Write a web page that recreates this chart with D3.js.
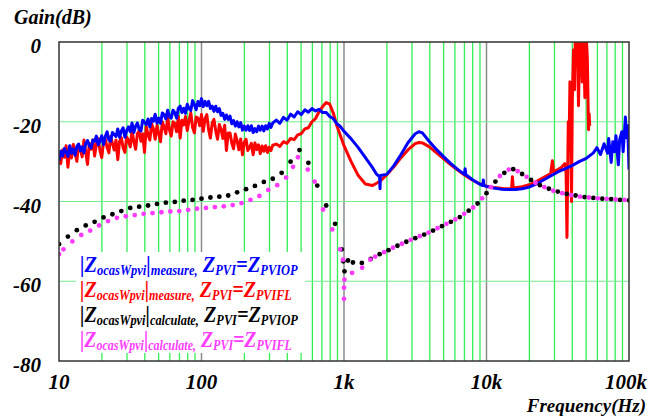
<!DOCTYPE html>
<html>
<head>
<meta charset="utf-8">
<script src="https://cdn.jsdelivr.net/npm/d3@7"></script>
<style>
body { margin: 0; background: #fff; }
svg text { font-family: "Liberation Serif", "Times New Roman", serif; font-weight: bold; font-style: italic; }
</style>
</head>
<body>
<div id="vis"></div>
<script>
// axis ticks
var freqTicks = [10, 100, 1000, 10000, 100000];
var freqLabels = ["10", "100", "1k", "10k", "100k"];
var gainTicks = [0, -20, -40, -60, -80];

// low band of the measured sweep (10 Hz .. 316 Hz)
var lowFreq = [
  10, 10.29, 10.59, 10.90, 11.22, 11.55, 11.89, 12.23, 12.59, 12.96, 13.34, 13.72, 14.13, 14.54, 14.96, 15.40,
  15.85, 16.31, 16.79, 17.28, 17.78, 18.30, 18.84, 19.39, 19.95, 20.54, 21.13, 21.75, 22.39, 23.04, 23.71, 24.41,
  25.12, 25.85, 26.61, 27.38, 28.18, 29.01, 29.85, 30.72, 31.62, 32.55, 33.50, 34.47, 35.48, 36.52, 37.58, 38.68,
  39.81, 40.97, 42.17, 43.40, 44.67, 45.97, 47.32, 48.70, 50.12, 51.58, 53.09, 54.64, 56.23, 57.88, 59.57, 61.31,
  63.10, 64.94, 66.83, 68.79, 70.79, 72.86, 74.99, 77.18, 79.43, 81.75, 84.14, 86.60, 89.13, 91.73, 94.41, 97.16,
  100, 102.9, 105.9, 109.0, 112.2, 115.5, 118.9, 122.3, 125.9, 129.6, 133.4, 137.2, 141.3, 145.4, 149.6, 154.0,
  158.5, 163.1, 167.9, 172.8, 177.8, 183.0, 188.4, 193.9, 199.5, 205.4, 211.3, 217.5, 223.9, 230.4, 237.1, 244.1,
  251.2, 258.5, 266.1, 273.8, 281.8, 290.1, 298.5, 307.2, 316.2
];
var iopLow = [
  -29.7, -27.4, -28.6, -26.7, -27.6, -28.7, -26.0, -27.9, -26.8, -28.4, -26.2, -25.6, -27.3, -26.3, -27.8, -25.4,
  -24.7, -26.0, -26.6, -24.6, -24.9, -23.6, -25.8, -24.9, -23.5, -25.7, -23.7, -22.5, -24.6, -24.9, -22.7, -23.2,
  -23.7, -21.8, -23.9, -22.3, -21.5, -23.9, -22.2, -21.3, -22.5, -20.3, -22.7, -21.1, -20.3, -21.9, -22.3, -19.6,
  -20.1, -20.7, -19.3, -21.3, -19.2, -19.9, -18.1, -20.3, -19.1, -20.4, -17.8, -18.2, -19.3, -17.1, -18.7, -19.1,
  -17.1, -17.7, -19.1, -16.6, -16.1, -17.7, -16.6, -17.9, -15.6, -16.7, -17.2, -14.7, -15.7, -17.0, -14.9, -16.0,
  -14.2, -16.2, -14.9, -16.0, -14.9, -16.7, -16.1, -17.4, -16.1, -17.5, -16.7, -18.4, -17.9, -19.4, -18.3, -19.4,
  -18.6, -20.5, -19.7, -21.1, -20.0, -21.3, -20.2, -22.1, -21.1, -22.1, -21.0, -22.2, -21.0, -22.7, -21.7, -22.5,
  -21.1, -22.1, -21.1, -22.3, -21.0, -21.8, -20.4, -21.4, -20.3
];
var iflLow = [
  -28.0, -30.5, -27.1, -28.9, -26.0, -31.4, -26.9, -29.1, -25.7, -27.7, -29.9, -25.7, -26.8, -28.8, -24.6, -27.5,
  -30.7, -25.4, -26.9, -24.6, -28.6, -25.6, -24.2, -27.3, -29.0, -25.1, -24.4, -26.4, -27.8, -23.7, -25.4, -27.1,
  -24.6, -29.5, -24.9, -24.0, -26.5, -27.7, -23.8, -24.7, -26.3, -22.1, -25.0, -26.9, -23.0, -22.3, -24.9, -23.0,
  -27.7, -21.2, -23.3, -24.6, -20.5, -21.8, -24.4, -20.9, -23.0, -25.0, -20.0, -21.3, -23.0, -18.9, -22.0, -23.6,
  -20.0, -20.4, -22.5, -18.7, -24.1, -19.6, -20.8, -18.7, -22.2, -19.8, -17.8, -21.4, -22.8, -18.8, -19.1, -21.0,
  -18.2, -22.4, -19.2, -18.2, -22.0, -24.1, -20.3, -19.4, -22.3, -24.4, -20.7, -21.9, -24.2, -20.9, -27.2, -22.8,
  -22.8, -25.3, -26.8, -23.1, -24.8, -27.0, -24.3, -28.3, -25.2, -24.4, -27.2, -26.5, -25.4, -28.3, -25.3, -27.0,
  -25.8, -28.0, -26.1, -27.4, -26.0, -27.7, -26.4, -27.2, -25.9
];

// rest of the sweep [Hz, dB], ZPVI = ZPVIOP
var iopHigh = [
  [335,-19.6],[355,-20.4],[376,-18.9],[398,-19.6],[422,-18.1],[447,-18.8],[473,-17.5],[501,-18.2],[531,-17.0],
  [562,-17.6],[596,-16.7],[631,-17.3],[668,-16.9],[708,-17.7],[750,-17.7],[794,-18.7],[841,-19.2],[891,-20.5],[944,-21.2],
  [1000,-22.4],[1122,-24.3],[1259,-26.5],[1413,-29],[1585,-31.5],[1679,-33],[1778,-33.8],[1790,-36.8],[1800,-33.5],[1995,-33.2],
  [2239,-31],[2512,-28.2],[2818,-25.2],[3162,-23],[3350,-22.5],[3548,-22.8],[3981,-25],[4467,-27],[5012,-28.8],[5623,-30.5],
  [6310,-32],[7000,-33.2],[7080,-31.8],[7160,-33.3],[7943,-34.5],[8913,-35.6],[9400,-36],[9500,-34.6],[9600,-36],[10000,-36.2],
  [11220,-36.6],[12589,-36.9],[14125,-37],[15849,-37],[17783,-36.8],[19953,-36.4],[22387,-35.6],[25119,-34.6],[28184,-33.6],[31623,-32.6],
  [35481,-31.8],[39811,-31.0],[44668,-30.0],[50119,-29.2],[56234,-27.8],[59566,-26.5],[63096,-28.2],[66834,-25.5],[70795,-27.9],[72000,-24.2],
  [74989,-30.2],[77000,-25.0],[79433,-27.5],[81000,-23.5],[84140,-30.8],[86000,-24.5],[89125,-22.5],[91000,-27.5],[94406,-18.8],[96000,-24],
  [98000,-21],[100000,-32]
];

// rest of the sweep [Hz, dB], ZPVI = ZPVIFL
var iflHigh = [
  [335,-25.6],[355,-26.2],[376,-25.0],[398,-25.4],[422,-24.2],[447,-24.5],[473,-23.3],[501,-23.0],[531,-21.8],
  [562,-21.5],[596,-20.0],[631,-19.2],[668,-17.5],[708,-16.2],[750,-15.2],[794,-15.6],[841,-17.8],[891,-21.0],[944,-23.5],
  [1000,-26.0],[1122,-30],[1259,-33.5],[1413,-35.6],[1585,-36],[1778,-35],[1995,-33.3],[2239,-31.3],[2512,-29],[2818,-27],
  [3162,-25.5],[3350,-25.2],[3548,-25.3],[3981,-26.3],[4467,-27.8],[5012,-29.3],[5623,-30.8],[6310,-32.2],[7079,-33.5],[7943,-34.6],
  [8913,-35.5],[10000,-36.2],[11220,-36.5],[12589,-36.7],[13335,-36.8],[15000,-36.8],[15200,-33.8],[15400,-36.6],[17783,-36.3],[19953,-35.8],
  [22387,-35.0],[25119,-34.0],[28184,-33.0],[29000,-29.8],[29600,-32.6],[31623,-32.0],[33500,-31.5],[35500,-30.5],[36200,-33],[36700,-49],
  [37100,-34],[37500,-20],[38000,-25],[38500,-10],[39000,-22],[39500,-40],[40000,-15],[40800,-2],[41500,-12],[42000,2],
  [42800,-6],[43500,2],[44200,-16],[45000,-2],[46000,2],[47000,-10],[48000,2],[49000,-14],[50000,2],[51000,-4],
  [52000,-22],[52500,-18],[53000,-21]
];

// |Z| calculated, ZPVI = ZPVIOP  [Hz, dB]
var calculatedIOP = [
  [10,-50.7],[11.55,-48.8],[13.34,-47.2],[15.4,-46.0],[17.78,-45.1],[20.54,-44.0],[23.71,-43.2],[27.38,-42.4],[31.62,-41.6],[36.52,-41.3],
  [42.17,-41.0],[48.7,-40.6],[56.23,-40.3],[64.94,-40.1],[74.99,-39.8],[86.6,-39.6],[100,-39.3],[115.5,-39.0],[133.4,-38.8],[154,-38.5],
  [177.8,-37.7],[205.4,-36.9],[237.1,-36.1],[273.8,-35.1],[316.2,-34.3],[365.2,-32.8],[421.7,-30.0],[487,-27.1],[562.3,-30.3],[649.4,-36.0],
  [749.9,-41.0],[866,-45.6],[963,-52],[989,-55],[1008,-57.5],[1067,-54.8],[1155,-55.3],[1334,-55.4],[1540,-54.4],[1778,-53.2],
  [2054,-52.2],[2371,-51.1],[2738,-50.1],[3162,-49.2],[3652,-48.3],[4217,-47.3],[4870,-46.2],[5623,-45.1],[6494,-43.9],[7499,-42.3],
  [8660,-40.5],[10000,-37.9],[11550,-35.0],[13340,-32.8],[15400,-31.9],[17780,-33.1],[20540,-34.6],[23710,-35.9],[27380,-36.8],[31620,-37.5],
  [36520,-38.1],[42170,-38.5],[48700,-38.9],[56230,-39.1],[64940,-39.3],[74990,-39.4],[86600,-39.6],[100000,-39.7]
];

// |Z| calculated, ZPVI = ZPVIFL  [Hz, dB]
var calculatedIFL = [
  [10,-53.2],[10.75,-52.0],[12.41,-50.0],[14.33,-48.4],[16.55,-47.3],[19.11,-46.0],[22.07,-44.9],[25.48,-44.1],[29.42,-43.7],[33.98,-43.4],
  [39.24,-43.1],[45.31,-42.9],[52.32,-42.7],[60.43,-42.5],[69.78,-42.4],[80.58,-42.1],[93.06,-41.8],[107.5,-41.6],[124.1,-41.4],[143.3,-41.2],
  [165.5,-40.9],[191.1,-40.4],[220.7,-39.6],[254.8,-38.6],[294.2,-37.1],[339.8,-35.9],[392.4,-34.0],[439,-31.3],[475,-28.9],[557,-32],
  [622,-35],[713,-42],[827,-47],[938,-52],[984,-54.6],[1007,-59.6],[1000,-61.6],[1000,-64.4],[1140,-57.9],[1340,-56.6],
  [1530,-54.6],[1655,-53.8],[1911,-52.7],[2207,-51.6],[2548,-50.6],[2942,-49.6],[3398,-48.7],[3924,-47.8],[4531,-46.7],[5233,-45.6],
  [6043,-44.5],[6978,-43.1],[8058,-41.5],[9306,-39.2],[10750,-36.4],[12410,-33.6],[14330,-32.0],[16550,-32.4],[19110,-33.8],[22070,-35.3],
  [25480,-36.4],[29420,-37.3],[33980,-37.9],[39240,-38.4],[45310,-38.8],[52320,-39.0],[60430,-39.2],[69780,-39.35],[80580,-39.5],[93060,-39.6]
];

var legendColors = ["#0000ff", "#ff0000", "#000000", "#ff3cff"];
var legendKinds = ["measure", "measure", "calculate", "calculate"];
var legendCases = ["PVIOP", "PVIFL", "PVIOP", "PVIFL"];

var measuredIOP = lowFreq.map(function(f, i) { return [f, iopLow[i]]; }).concat(iopHigh);
var measuredIFL = lowFreq.map(function(f, i) { return [f, iflLow[i]]; }).concat(iflHigh);

var margin = {top: 42, right: 19, bottom: 55, left: 59};
var width = 648 - margin.left - margin.right,
    height = 416 - margin.top - margin.bottom;

var svg = d3.select("#vis").append("svg")
  .attr("width", 648)
  .attr("height", 416);

var g = svg.append("g")
  .attr("transform", "translate(" + margin.left + "," + margin.top + ")");

var x = d3.scaleLog().domain([10, 100000]).range([0, width]);
var y = d3.scaleLinear().domain([-80, 0]).range([height, 0]);

g.append("clipPath").attr("id", "plot-clip")
  .append("rect").attr("width", width).attr("height", height);

// minor frequency grid
var minor = x.ticks().filter(function(d) { return freqTicks.indexOf(d) < 0; });
g.append("g").selectAll("line")
  .data(minor)
  .enter().append("line")
  .attr("x1", function(d) { return x(d); })
  .attr("x2", function(d) { return x(d); })
  .attr("y1", 0).attr("y2", height)
  .attr("stroke", "#33ee55")
  .attr("stroke-width", 1.3);

// decade lines
g.append("g").selectAll("line")
  .data(freqTicks.slice(1, -1))
  .enter().append("line")
  .attr("x1", function(d) { return x(d); })
  .attr("x2", function(d) { return x(d); })
  .attr("y1", 0).attr("y2", height)
  .attr("stroke", "#8a8a8a")
  .attr("stroke-width", 1.5);

// gain grid
g.append("g").selectAll("line")
  .data(gainTicks.slice(1, -1))
  .enter().append("line")
  .attr("x1", 0).attr("x2", width)
  .attr("y1", function(d) { return y(d); })
  .attr("y2", function(d) { return y(d); })
  .attr("stroke", "#77ee90")
  .attr("stroke-width", 1.2);

var line = d3.line()
  .x(function(d) { return x(d[0]); })
  .y(function(d) { return y(d[1]); });

var curves = g.append("g").attr("clip-path", "url(#plot-clip)");

curves.append("path")
  .datum(measuredIFL)
  .attr("d", line)
  .attr("fill", "none")
  .attr("stroke", "#ff0000")
  .attr("stroke-width", 3)
  .attr("stroke-linejoin", "round");

curves.append("path")
  .datum(measuredIOP)
  .attr("d", line)
  .attr("fill", "none")
  .attr("stroke", "#0000ff")
  .attr("stroke-width", 3)
  .attr("stroke-linejoin", "round");

curves.append("g").selectAll("circle")
  .data(calculatedIOP)
  .enter().append("circle")
  .attr("cx", function(d) { return x(d[0]); })
  .attr("cy", function(d) { return y(d[1]); })
  .attr("r", 2.4)
  .attr("fill", "#000");

curves.append("g").selectAll("circle")
  .data(calculatedIFL)
  .enter().append("circle")
  .attr("cx", function(d) { return x(d[0]); })
  .attr("cy", function(d) { return y(d[1]); })
  .attr("r", 2.4)
  .attr("fill", "#ff3cff");

// frame
g.append("rect")
  .attr("width", width).attr("height", height)
  .attr("fill", "none")
  .attr("stroke", "#333")
  .attr("stroke-width", 1.5);

// tick labels
g.append("g").selectAll("text")
  .data(gainTicks)
  .enter().append("text")
  .attr("x", -18)
  .attr("y", function(d) { return y(d) + 11; })
  .attr("text-anchor", "end")
  .attr("font-size", 21)
  .text(function(d) { return d; });

g.append("g").selectAll("text")
  .data(freqTicks)
  .enter().append("text")
  .attr("x", function(d, i) { return i === freqTicks.length - 1 ? 648 - margin.left - 1 : x(d); })
  .attr("y", height + 28)
  .attr("text-anchor", function(d, i) { return i === freqTicks.length - 1 ? "end" : "middle"; })
  .attr("font-size", 21)
  .text(function(d, i) { return freqLabels[i]; });

svg.append("text")
  .attr("x", 14).attr("y", 24)
  .attr("font-size", 20)
  .text("Gain(dB)");

svg.append("text")
  .attr("x", 646).attr("y", 412)
  .attr("text-anchor", "end")
  .attr("font-size", 19)
  .text("Frequency(Hz)");

// legend
var legend = svg.append("g");
legend.append("rect")
  .attr("x", 76).attr("y", 252)
  .attr("width", 229).attr("height", 101)
  .attr("fill", "#fff");

legendColors.forEach(function(c, i) {
  var t = legend.append("text")
    .attr("x", 80)
    .attr("y", 272 + i * 25)
    .attr("fill", c)
    .attr("font-size", 23);
  t.append("tspan").text("|Z");
  t.append("tspan").attr("font-size", 14).attr("dy", 3).text("ocasWpvi");
  t.append("tspan").attr("dy", -3).text("|");
  t.append("tspan").attr("font-size", 14).attr("dy", 3).text(legendKinds[i] + ",");
  t.append("tspan").attr("dy", -3).text(" Z");
  t.append("tspan").attr("font-size", 14).attr("dy", 3).text("PVI");
  t.append("tspan").attr("dy", -3).text("=Z");
  t.append("tspan").attr("font-size", 14).attr("dy", 3).text(legendCases[i]);
  var w = t.node().getComputedTextLength();
  var target = legendCases[i] === "PVIOP" ? 218 : 212;
  var s = target / w;
  t.attr("transform", "translate(80,0) scale(" + s + ",1) translate(-80,0)");
});
</script>
</body>
</html>
